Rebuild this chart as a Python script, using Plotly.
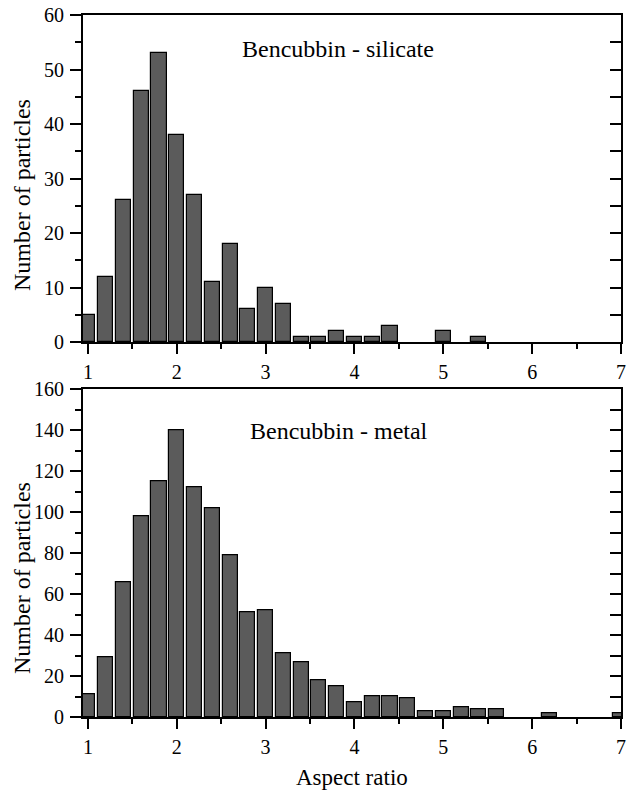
import plotly.graph_objects as go

# Bin centres (aspect ratio), bin width 0.2
bins = [round(1.0 + 0.2 * i, 1) for i in range(31)]

silicate = [5, 12, 26, 46, 53, 38, 27, 11, 18, 6, 10, 7, 1, 1, 2, 1, 1, 3, 0, 0,
            2, 0, 1, 0, 0, 0, 0, 0, 0, 0, 0]
metal = [11, 29, 66, 98, 115, 140, 112, 102, 79, 51, 52, 31, 27, 18, 15, 7, 10, 10, 9, 3,
         3, 5, 4, 4, 0, 0, 2, 0, 0, 0, 2]

x_ticks = [1, 1.5, 2, 2.5, 3, 3.5, 4, 4.5, 5, 5.5, 6, 6.5, 7]
y1_ticks = list(range(0, 61, 10))
y2_ticks = list(range(0, 161, 20))

FONT = "Liberation Serif, Times New Roman, serif"
BAR_COLOR = "#5b5b5b"


def nz(vals):
    # empty bins are not drawn (no outline on the axis)
    return [v if v else None for v in vals]


fig = go.Figure()
fig.add_trace(go.Bar(x=bins, y=nz(silicate), width=0.17, xaxis="x", yaxis="y",
                     marker=dict(color=BAR_COLOR, line=dict(color="black", width=1.2)),
                     showlegend=False))
fig.add_trace(go.Bar(x=bins, y=nz(metal), width=0.17, xaxis="x2", yaxis="y2",
                     marker=dict(color=BAR_COLOR, line=dict(color="black", width=1.2)),
                     showlegend=False))
# carriers for the right-hand (inward tick) axes
fig.add_trace(go.Scatter(x=[None], y=[None], xaxis="x", yaxis="y3", showlegend=False,
                         hoverinfo="skip"))
fig.add_trace(go.Scatter(x=[None], y=[None], xaxis="x2", yaxis="y4", showlegend=False,
                         hoverinfo="skip"))

xcommon = dict(range=[0.945, 7.0], tickmode="array", tickvals=[1, 2, 3, 4, 5, 6, 7],
               ticks="outside", ticklen=10, tickwidth=2, tickcolor="black",
               minor=dict(tickmode="array", tickvals=x_ticks, ticks="outside", ticklen=5,
                          tickwidth=2, tickcolor="black"),
               showline=True, linewidth=2, linecolor="black", mirror=True,
               showgrid=False, zeroline=False, ticklabelstandoff=1, automargin=False,
               tickfont=dict(family=FONT, size=20, color="black"))


def ycommon(rng, vals, minor_dt):
    return dict(range=rng, tickmode="array", tickvals=vals,
                ticks="outside", ticklen=11, tickwidth=2, tickcolor="black",
                minor=dict(dtick=minor_dt, ticks="outside", ticklen=6, tickwidth=2,
                           tickcolor="black"),
                showline=True, linewidth=2, linecolor="black", mirror=True,
                showgrid=False, zeroline=False, ticklabelstandoff=2, automargin=False,
                tickfont=dict(family=FONT, size=20, color="black"))


def yright(rng, vals, minor_dt, over):
    return dict(range=rng, overlaying=over, side="right", tickmode="array", tickvals=vals,
                ticks="inside", ticklen=11, tickwidth=2, tickcolor="black",
                minor=dict(dtick=minor_dt, ticks="inside", ticklen=11, tickwidth=2,
                           tickcolor="black"),
                showticklabels=False, showline=False, showgrid=False, zeroline=False,
                automargin=False)


def label(text, x, y, size, angle=0):
    return dict(text=text, x=x, y=y, xref="paper", yref="paper", xanchor="center",
                yanchor="middle", textangle=angle, showarrow=False,
                font=dict(family=FONT, size=size, color="black"))


fig.update_layout(
    width=632, height=799,
    margin=dict(l=83, r=11, t=15, b=82, autoexpand=False),
    paper_bgcolor="white", plot_bgcolor="white",
    bargap=0,
    xaxis=dict(xcommon, anchor="y", domain=[0, 1]),
    xaxis2=dict(xcommon, anchor="y2", domain=[0, 1]),
    yaxis=dict(ycommon([0, 60], y1_ticks, 5), anchor="x", domain=[0.534, 1]),
    yaxis2=dict(ycommon([0, 160], y2_ticks, 10), anchor="x2", domain=[0, 0.467]),
    yaxis3=dict(yright([0, 60], y1_ticks, 5, "y"), anchor="x"),
    yaxis4=dict(yright([0, 160], y2_ticks, 10, "y2"), anchor="x2"),
    annotations=[
        label("Bencubbin - silicate", 0.474, 0.9516, 24),
        label("Bencubbin - metal", 0.475, 0.4074, 24),
        label("Number of particles", -0.1134, 0.7436, 24, -90),
        label("Number of particles", -0.1134, 0.198, 24, -90),
        label("Aspect ratio", 0.5, -0.0855, 23),
    ],
)

fig.write_html("out.html")
